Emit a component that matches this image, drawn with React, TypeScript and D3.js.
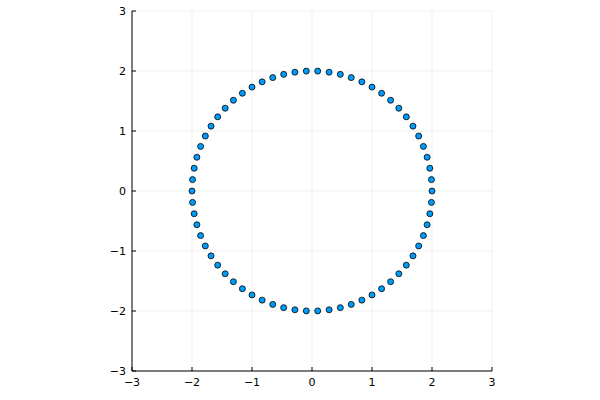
import React from "react";
import * as d3 from "d3";

const xValues = [
  2.0, 1.991, 1.964, 1.919, 1.857, 1.778, 1.683, 1.572, 1.447, 1.31, 1.16, 1.0, 0.831, 0.654, 0.472, 0.285, 0.095,
  -0.095, -0.285, -0.472, -0.654, -0.831, -1.0, -1.16, -1.31, -1.447, -1.572, -1.683, -1.778, -1.857, -1.919, -1.964, -1.991,
  -2.0, -1.991, -1.964, -1.919, -1.857, -1.778, -1.683, -1.572, -1.447, -1.31, -1.16, -1.0, -0.831, -0.654, -0.472, -0.285, -0.095,
  0.095, 0.285, 0.472, 0.654, 0.831, 1.0, 1.16, 1.31, 1.447, 1.572, 1.683, 1.778, 1.857, 1.919, 1.964, 1.991,
];
const yValues = [
  0.0, 0.19, 0.379, 0.563, 0.743, 0.916, 1.081, 1.236, 1.38, 1.512, 1.629, 1.732, 1.819, 1.89, 1.944, 1.98, 1.998,
  1.998, 1.98, 1.944, 1.89, 1.819, 1.732, 1.629, 1.512, 1.38, 1.236, 1.081, 0.916, 0.743, 0.563, 0.379, 0.19,
  0.0, -0.19, -0.379, -0.563, -0.743, -0.916, -1.081, -1.236, -1.38, -1.512, -1.629, -1.732, -1.819, -1.89, -1.944, -1.98, -1.998,
  -1.998, -1.98, -1.944, -1.89, -1.819, -1.732, -1.629, -1.512, -1.38, -1.236, -1.081, -0.916, -0.743, -0.563, -0.379, -0.19,
];
const xTicks = [-3, -2, -1, 0, 1, 2, 3];
const yTicks = [-3, -2, -1, 0, 1, 2, 3];

const W = 600;
const H = 400;
const left = 132;
const right = 492;
const top = 11;
const bottom = 371;

const fmt = (v: number) => (v < 0 ? "\u2212" + Math.abs(v) : String(v));

export default function App() {
  const x = d3.scaleLinear().domain([-3, 3]).range([left, right]);
  const y = d3.scaleLinear().domain([-3, 3]).range([bottom, top]);
  const font = "'DejaVu Sans', sans-serif";
  return (
    <svg width={W} height={H} style={{ position: "absolute", left: 0, top: 0, background: "#fff" }}>
      <rect x={0} y={0} width={W} height={H} fill="#fff" />
      {xTicks.map((t) => (
        <line key={"gx" + t} x1={x(t)} x2={x(t)} y1={top} y2={bottom} stroke="#000" strokeOpacity={0.1} strokeWidth={0.6} />
      ))}
      {yTicks.map((t) => (
        <line key={"gy" + t} x1={left} x2={right} y1={y(t)} y2={y(t)} stroke="#000" strokeOpacity={0.1} strokeWidth={0.6} />
      ))}
      <line x1={left} x2={left} y1={top} y2={bottom} stroke="#000" strokeWidth={1} />
      <line x1={left} x2={right} y1={bottom} y2={bottom} stroke="#000" strokeWidth={1} />
      {xTicks.map((t) => (
        <g key={"tx" + t}>
          <line x1={x(t)} x2={x(t)} y1={bottom} y2={bottom - 4} stroke="#000" strokeWidth={1} />
          <text x={x(t)} y={bottom + 15} textAnchor="middle" fontFamily={font} fontSize={11} fill="#000">
            {fmt(t)}
          </text>
        </g>
      ))}
      {yTicks.map((t) => (
        <g key={"ty" + t}>
          <line x1={left} x2={left + 4} y1={y(t)} y2={y(t)} stroke="#000" strokeWidth={1} />
          <text x={left - 6} y={y(t) + 4} textAnchor="end" fontFamily={font} fontSize={11} fill="#000">
            {fmt(t)}
          </text>
        </g>
      ))}
      {xValues.map((v, i) => (
        <circle key={i} cx={x(v)} cy={y(yValues[i])} r={3} fill="#009AFA" stroke="#000" strokeWidth={0.8} />
      ))}
    </svg>
  );
}
